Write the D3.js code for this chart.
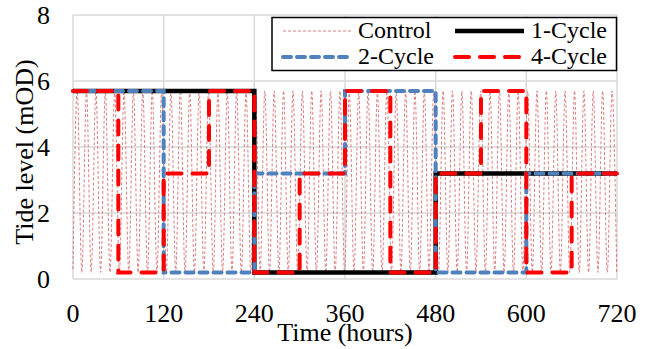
<!DOCTYPE html>
<html>
<head>
<script src="https://cdn.jsdelivr.net/npm/d3@7"></script>
</head>
<body style="margin:0">
<svg id="chart" width="652" height="349"></svg>
<script>
// ---- data ----
const xTickValues = [0, 120, 240, 360, 480, 600, 720];
const yTickValues = [0, 2, 4, 6, 8];
const seriesNames = ["Control", "1-Cycle", "2-Cycle", "4-Cycle"];

// step series: levels held for equal blocks across 0-720 h
const oneCycleLevels = [5.7, 0.2, 3.2];
const twoCycleLevels = [5.7, 0.2, 3.2, 5.7, 0.2, 3.2];
const fourCycleLevels = [5.7, 0.2, 3.2, 5.7, 0.2, 3.2, 5.7, 0.2, 3.2, 5.7, 0.2, 3.2];

// control tide: high / low water times (hours)
const controlStart = [0, 0.3];
const controlHighLevel = 5.7;
const controlLowLevel = 0.2;
const controlHighTimes = [5.5, 17.9, 30.3, 42.8, 55.2, 67.6, 80.0, 92.4, 104.9, 117.3,
  129.7, 142.1, 154.5, 167.0, 179.4, 191.8, 204.2, 216.6, 229.1, 241.5,
  253.9, 266.3, 278.7, 291.2, 303.6, 316.0, 328.4, 340.8, 353.3, 365.7,
  378.1, 390.5, 402.9, 415.4, 427.8, 440.2, 452.6, 465.0, 477.5, 489.9,
  502.3, 514.7, 527.1, 539.6, 552.0, 564.4, 576.8, 589.2, 601.7, 614.1,
  626.5, 638.9, 651.3, 663.8, 676.2, 688.6, 701.0, 713.4];
const controlLowTimes = [11.7, 24.1, 36.5, 49.0, 61.4, 73.8, 86.2, 98.6, 111.1, 123.5,
  135.9, 148.3, 160.7, 173.2, 185.6, 198.0, 210.4, 222.8, 235.3, 247.7,
  260.1, 272.5, 284.9, 297.4, 309.8, 322.2, 334.6, 347.0, 359.5, 371.9,
  384.3, 396.7, 409.1, 421.6, 434.0, 446.4, 458.8, 471.2, 483.7, 496.1,
  508.5, 520.9, 533.3, 545.8, 558.2, 570.6, 583.0, 595.4, 607.9, 620.3,
  632.7, 645.1, 657.5, 670.0, 682.4, 694.8, 707.2, 719.6];

// ---- layout ----
const FONT = "Liberation Serif";
const svg = d3.select("#chart");
const plot = { left: 73, right: 617, top: 15, bottom: 279 };
const x = d3.scaleLinear().domain([0, 720]).range([plot.left, plot.right]);
const y = d3.scaleLinear().domain([0, 8]).range([plot.bottom, plot.top]);

// text first
function txt(parent, str, fs, xx, yy, anchor) {
  return parent.append("text").attr("x", xx).attr("y", yy).attr("font-size", fs)
    .attr("font-family", FONT).attr("text-anchor", anchor || "start").text(str);
}
const labels = svg.append("g");
xTickValues.forEach(v => txt(labels, String(v), 26, x(v), plot.bottom + 42.5, "middle"));
yTickValues.forEach(v => txt(labels, String(v), 26, plot.left - 23, y(v) + 8.6, "end"));
txt(labels, "Time (hours)", 26, (plot.left + plot.right) / 2, 341, "middle");
txt(labels, "Tide level (mOD)", 26, 0, 0, "middle").attr("transform", "translate(33,152) rotate(-90)");

// grid
const grid = svg.insert("g", ":first-child");
grid.selectAll("line.v").data(xTickValues).join("line").attr("class", "v")
  .attr("x1", d => x(d)).attr("x2", d => x(d)).attr("y1", plot.top).attr("y2", plot.bottom)
  .attr("stroke", "#d9d9d9").attr("stroke-width", 1.5);
grid.selectAll("line.h").data(yTickValues).join("line").attr("class", "h")
  .attr("x1", plot.left).attr("x2", plot.right).attr("y1", d => y(d)).attr("y2", d => y(d))
  .attr("stroke", "#d9d9d9").attr("stroke-width", 1.5);

// control series
const controlPts = [{ t: controlStart[0], v: controlStart[1] }]
  .concat(controlHighTimes.map(t => ({ t, v: controlHighLevel })))
  .concat(controlLowTimes.map(t => ({ t, v: controlLowLevel })))
  .sort((a, b) => a.t - b.t);

const smoothLine = d3.line().x(d => x(d.t)).y(d => y(d.v)).curve(d3.curveMonotoneX);
const stepLine = d3.line().x(d => x(d.t)).y(d => y(d.v)).curve(d3.curveStepAfter);

function stepPoints(levels) {
  const w = 720 / levels.length;
  const pts = levels.map((v, i) => ({ t: i * w, v }));
  pts.push({ t: 720, v: levels[levels.length - 1] });
  return pts;
}

const styles = {
  "Control": { stroke: "#d46a6a", width: 1, dash: "3,2", opacity: 0.85, cap: "butt" },
  "1-Cycle": { stroke: "#000000", width: 4.5, dash: null, opacity: 1, cap: "butt" },
  "2-Cycle": { stroke: "#4f81bd", width: 4, dash: "8,6", opacity: 1, cap: "round" },
  "4-Cycle": { stroke: "#ff0000", width: 4, dash: "14,11", opacity: 1, cap: "round" }
};

function applyStyle(sel, s) {
  sel.attr("fill", "none").attr("stroke", s.stroke).attr("stroke-width", s.width)
    .attr("stroke-opacity", s.opacity).attr("stroke-linecap", s.cap)
    .attr("stroke-linejoin", "miter");
  if (s.dash) sel.attr("stroke-dasharray", s.dash);
}

const lines = svg.insert("g", "g:nth-child(2)");
lines.append("path").datum(controlPts).attr("d", smoothLine).call(applyStyle, styles["Control"]);
lines.append("path").datum(stepPoints(oneCycleLevels)).attr("d", stepLine).call(applyStyle, styles["1-Cycle"]);
lines.append("path").datum(stepPoints(twoCycleLevels)).attr("d", stepLine).call(applyStyle, styles["2-Cycle"]);
lines.append("path").datum(stepPoints(fourCycleLevels)).attr("d", stepLine).call(applyStyle, styles["4-Cycle"]);

// legend
const lg = svg.append("g");
lg.append("rect").attr("x", 272).attr("y", 17.5).attr("width", 344.5).attr("height", 53)
  .attr("fill", "#fff").attr("stroke", "#000").attr("stroke-width", 1.5);
const legendItems = [
  { name: seriesNames[0], sx: 283, tx: 358, row: 0 },
  { name: seriesNames[1], sx: 455, tx: 531, row: 0 },
  { name: seriesNames[2], sx: 283, tx: 358, row: 1 },
  { name: seriesNames[3], sx: 455, tx: 531, row: 1 }
];
const rowY = [31, 57];
legendItems.forEach(it => {
  const yy = rowY[it.row];
  lg.append("line").attr("x1", it.sx).attr("x2", it.sx + 69).attr("y1", yy).attr("y2", yy)
    .call(applyStyle, styles[it.name]);
  txt(lg, it.name, 24, it.tx, yy + 7);
});
</script>
</body>
</html>
